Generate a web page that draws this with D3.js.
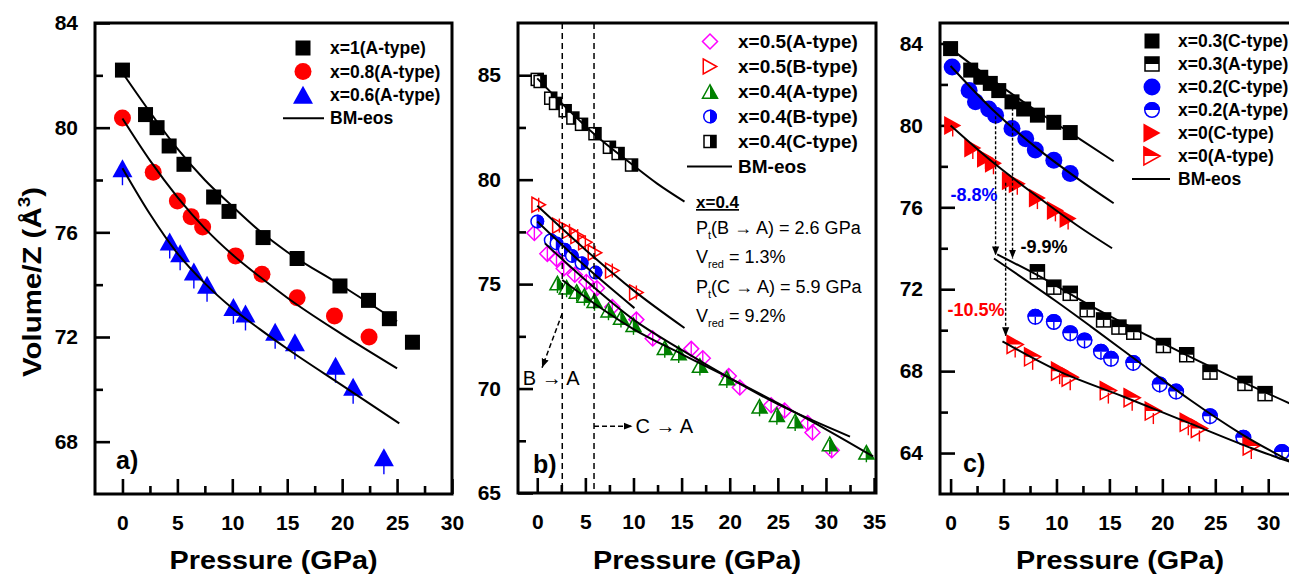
<!DOCTYPE html>
<html>
<head>
<meta charset="utf-8">
<script src="https://cdn.jsdelivr.net/npm/d3@7"></script>
<style>
  body { margin: 0; background: #fff; }
  svg { display: block; font-family: "Liberation Sans", Arial, sans-serif; }
</style>
</head>
<body>
<svg id="fig" width="1289" height="575"></svg>
<script>
// ---------- Panel a: A-type samples, x = 1, 0.8, 0.6 ----------
const aX1  = [[0,82.2],[2.1,80.5],[3.15,80.0],[4.25,79.3],[5.6,78.6],[8.3,77.35],[9.7,76.8],[12.8,75.8],[15.9,75.0],[19.8,73.95],[22.4,73.4],[24.3,72.7],[26.4,71.8]];
const aX08 = [[0,80.37],[2.8,78.3],[5.0,77.2],[6.25,76.6],[7.3,76.2],[10.3,75.1],[12.7,74.4],[15.9,73.5],[19.3,72.8],[22.45,72.0]];
const aX06 = [[0,78.45],[4.3,75.65],[5.25,75.2],[6.5,74.5],[7.7,74.0],[10.1,73.15],[11.2,72.9],[13.9,72.2],[15.7,71.8],[19.4,70.9],[21.0,70.1],[23.8,67.4]];
const aFit1  = [[0,82.1],[2.5,80.6],[5,79.2],[7.5,78.0],[10,77.0],[12.5,76.05],[15,75.25],[20,73.95],[25,72.6]];
const aFit08 = [[0,80.35],[2.5,78.75],[5,77.35],[7.5,76.15],[10,75.15],[12.5,74.3],[15,73.5],[20,72.1],[25,70.8]];
const aFit06 = [[0,78.45],[2.5,76.7],[5,75.2],[7.5,74.05],[10,73.1],[12.5,72.3],[15,71.55],[20,70.15],[25.2,68.7]];

// ---------- Panel b: x = 0.5 and x = 0.4 ----------
const bA05 = [[-0.3,77.45],[1.05,76.45],[2.0,76.2],[2.75,75.75],[3.9,75.45],[5.1,75.1],[6.2,74.8],[7.8,73.9],[10.3,73.3],[12.0,72.4],[16.0,71.9],[17.2,71.45],[19.9,70.6],[21.05,70.05],[24.3,69.2],[25.7,68.95],[28.1,68.35],[28.6,67.9],[30.6,67.05]];
const bB05 = [[0.15,78.8],[2.3,77.8],[3.35,77.55],[4.2,77.3],[5.0,77.0],[6.0,76.5],[7.8,75.65],[10.3,74.6]];
const bA04 = [[2.1,75.05],[3.05,74.85],[4.1,74.65],[4.9,74.45],[5.95,74.2],[7.4,73.75],[8.7,73.4],[10.0,73.05],[13.25,71.95],[14.7,71.7],[16.9,71.1],[19.7,70.5],[23.1,69.15],[24.9,68.75],[26.8,68.45],[30.4,67.35],[34.2,66.95]];
const bB04 = [[0,78.0],[1.4,77.1],[2.0,76.95],[2.85,76.65],[3.6,76.35],[4.6,76.0],[6.05,75.55]];
const bC04 = [[0,84.8],[0.3,84.7],[1.4,83.9],[1.9,83.65],[2.9,83.3],[3.7,82.95],[4.6,82.65],[6.0,82.2],[7.5,81.55],[8.4,81.25],[9.8,80.7]];
const bFitC04 = [[0,84.85],[3,83.45],[6,82.15],[9.8,80.75],[12.5,79.8],[15.3,78.95]];
const bFitB05 = [[0,78.75],[5,76.65],[10,74.7],[15.3,72.9]];
const bFitB04 = [[0,78.0],[5,75.85],[10.1,73.85]];
const bFitA05 = [[0.8,76.95],[5,75.2],[10,73.3],[15,71.85],[20,70.5],[25,69.25],[32.5,67.7]];
const bFitA04 = [[2.6,75.2],[6,74.05],[10,72.85],[15,71.65],[20,70.5],[25,69.3],[30,68.05],[34.9,66.75]];
const bTransitions = [2.6, 5.9];          // P_t(B->A), P_t(C->A) in GPa

// ---------- Panel c: x = 0.3, 0.2, 0 ----------
const cC03 = [[0,83.75],[1.9,82.7],[2.85,82.35],[3.75,82.05],[4.55,81.7],[5.8,81.15],[6.9,80.8],[8.2,80.5],[9.75,80.15],[11.3,79.65]];
const cA03 = [[8.2,72.85],[9.75,72.1],[11.3,71.8],[12.9,71.0],[14.45,70.5],[15.9,70.15],[17.3,69.9],[20.1,69.25],[22.3,68.8],[24.5,67.95],[27.8,67.4],[29.7,66.9]];
const cC02 = [[0.15,82.85],[1.75,81.7],[2.35,81.15],[3.6,80.8],[4.25,80.5],[5.8,79.85],[7.1,79.35],[8.0,78.8],[9.75,78.3],[11.3,77.65]];
const cA02 = [[8.0,70.65],[9.75,70.4],[11.3,69.85],[12.65,69.5],[14.2,68.95],[15.15,68.6],[17.25,68.4],[19.75,67.35],[21.3,67.0],[24.5,65.8],[27.65,64.75],[31.3,64.05]];
const cC0  = [[0.2,80.0],[2.1,78.9],[3.3,78.4],[4.05,78.15],[5.65,77.3],[6.3,77.15],[8.2,76.45],[9.9,75.85],[11.1,75.45]];
const cA0  = [[6.1,69.3],[7.75,68.7],[10.3,68.0],[11.3,67.7],[14.9,67.05],[17.15,66.7],[19.15,66.05],[22.45,65.5],[23.5,65.2],[28.4,64.35]];
const cFitC03 = [[0,83.75],[4,82.2],[8,80.75],[12,79.4],[15.4,78.25]];
const cFitC02 = [[0,82.9],[4,80.75],[8,78.95],[12,77.4],[15.4,76.2]];
const cFitC0  = [[0,80.0],[4,78.2],[8,76.6],[12,75.1],[15.25,74.0]];
const cFitA03 = [[4.4,73.7],[8.5,72.6],[13.2,71.2],[19.5,69.5],[25.8,67.9],[33,66.2]];
const cFitA02 = [[4.1,73.5],[10,71.4],[13.2,70.2],[17.9,68.4],[22.6,66.6],[27.4,64.95],[33,63.35]];
const cFitA0  = [[4.9,69.45],[10,68.05],[16.35,66.75],[22.6,65.45],[28.9,64.15],[33,63.4]];
// volume drops at the C -> A transition: [P, V before, V after]
const cDrops = [[4.25,80.45,73.65],[5.85,81.1,73.5],[5.2,77.2,69.7]];

// ---------- axis ticks ----------
const aTicksX = [0,5,10,15,20,25,30];
const aTicksY = [68,72,76,80,84];
const bTicksX = [0,5,10,15,20,25,30,35];
const bTicksY = [65,70,75,80,85];
const cTicksX = [0,5,10,15,20,25,30];
const cTicksY = [64,68,72,76,80,84];

const RED = "#ff0000", BLUE = "#0000ff", GREEN = "#008000", MAG = "#ff00ff", BLK = "#000000";

const svg = d3.select("#fig");
const defs = svg.append("defs");
defs.append("marker").attr("id", "arrowHead")
  .attr("viewBox", "0 0 10 10").attr("refX", 10).attr("refY", 5)
  .attr("markerWidth", 9).attr("markerHeight", 9).attr("markerUnits", "userSpaceOnUse")
  .attr("orient", "auto")
  .append("path").attr("d", "M0,1L10,5L0,9Z").attr("fill", BLK);

// ---------- symbol painter ----------
function symbol(g, kind, x, y, s, c) {
  const h = s / 2, t = s * 0.45;
  const sw = 1.5;
  switch (kind) {
    case "square":
      g.append("rect").attr("x", x - h).attr("y", y - h).attr("width", s).attr("height", s).attr("fill", c);
      break;
    case "circle":
      g.append("circle").attr("cx", x).attr("cy", y).attr("r", h).attr("fill", c);
      break;
    case "triUp":
      g.append("path").attr("d", `M${x - h},${y + t}L${x + h},${y + t}L${x},${y - t}Z`).attr("fill", c);
      break;
    case "diamond":
      g.append("path").attr("d", `M${x},${y - h}L${x + h},${y}L${x},${y + h}L${x - h},${y}Z`)
        .attr("fill", "none").attr("stroke", c).attr("stroke-width", sw);
      break;
    case "triRightOpen":
      g.append("path").attr("d", `M${x - t},${y - h}L${x + t},${y}L${x - t},${y + h}Z`)
        .attr("fill", "none").attr("stroke", c).attr("stroke-width", sw);
      break;
    case "triRight":
      g.append("path").attr("d", `M${x - t},${y - h}L${x + t},${y}L${x - t},${y + h}Z`).attr("fill", c);
      break;
    case "triHalfLR":
      g.append("path").attr("d", `M${x - h},${y + t}L${x + h},${y + t}L${x},${y - t}Z`)
        .attr("fill", "#fff").attr("stroke", c).attr("stroke-width", sw);
      g.append("path").attr("d", `M${x},${y - t}L${x + h},${y + t}L${x},${y + t}Z`).attr("fill", c);
      break;
    case "circleHalfLR":
      g.append("circle").attr("cx", x).attr("cy", y).attr("r", h - 0.75)
        .attr("fill", "#fff").attr("stroke", c).attr("stroke-width", sw);
      g.append("path").attr("d", `M${x},${y - h}A${h},${h} 0 0 1 ${x},${y + h}Z`).attr("fill", c);
      break;
    case "squareHalfLR":
      g.append("rect").attr("x", x - h).attr("y", y - h).attr("width", s).attr("height", s)
        .attr("fill", "#fff").attr("stroke", c).attr("stroke-width", sw);
      g.append("rect").attr("x", x).attr("y", y - h).attr("width", h).attr("height", s).attr("fill", c);
      break;
    case "squareHalfTB":
      g.append("rect").attr("x", x - h).attr("y", y - h).attr("width", s).attr("height", s)
        .attr("fill", "#fff").attr("stroke", c).attr("stroke-width", sw);
      g.append("rect").attr("x", x - h).attr("y", y - h).attr("width", s).attr("height", h).attr("fill", c);
      break;
    case "circleHalfTB":
      g.append("circle").attr("cx", x).attr("cy", y).attr("r", h - 0.75)
        .attr("fill", "#fff").attr("stroke", c).attr("stroke-width", sw);
      g.append("path").attr("d", `M${x - h},${y}A${h},${h} 0 0 1 ${x + h},${y}Z`).attr("fill", c);
      break;
    case "triRightHalfTB":
      g.append("path").attr("d", `M${x - t},${y - h}L${x + t},${y}L${x - t},${y + h}Z`)
        .attr("fill", "#fff").attr("stroke", c).attr("stroke-width", sw);
      g.append("path").attr("d", `M${x - t},${y - h}L${x + t},${y}L${x - t},${y}Z`).attr("fill", c);
      break;
  }
}

// ---------- generic panel ----------
function panel(cfg) {
  const g = svg.append("g");
  const x = d3.scaleLinear().domain(cfg.xDomain).range([cfg.left, cfg.right]);
  const y = d3.scaleLinear().domain(cfg.yDomain).range([cfg.bottom, cfg.top]);

  // frame
  g.append("path")
    .attr("d", `M${cfg.left},${cfg.top}H${cfg.right}V${cfg.bottom}H${cfg.left}Z`)
    .attr("fill", "none").attr("stroke", BLK).attr("stroke-width", 3);

  // inward ticks: major with labels, minor halfway
  const xMinor = cfg.xTicks.slice(0, -1).map((v, i) => (v + cfg.xTicks[i + 1]) / 2)
    .concat([cfg.xTicks[cfg.xTicks.length - 1] + (cfg.xTicks[1] - cfg.xTicks[0]) / 2])
    .filter(v => v > cfg.xDomain[0] && v < cfg.xDomain[1]);
  const yMinor = cfg.yTicks.slice(0, -1).map((v, i) => (v + cfg.yTicks[i + 1]) / 2)
    .filter(v => v > cfg.yDomain[0] && v < cfg.yDomain[1]);

  const xAxis = d3.axisBottom(x).tickValues(cfg.xTicks).tickSizeInner(-15).tickSizeOuter(0).tickPadding(21);
  const xa = g.append("g").attr("transform", `translate(0,${cfg.bottom})`).call(xAxis);
  xa.select(".domain").remove();
  xa.selectAll(".tick line").attr("stroke-width", 2.6);
  xa.selectAll(".tick text").attr("font-size", 21).attr("font-weight", "bold")
    .attr("font-family", "Liberation Sans, Arial, sans-serif").attr("fill", BLK);
  const xm = d3.axisBottom(x).tickValues(xMinor).tickSizeInner(-8).tickSizeOuter(0).tickFormat("");
  const xma = g.append("g").attr("transform", `translate(0,${cfg.bottom})`).call(xm);
  xma.select(".domain").remove();
  xma.selectAll(".tick line").attr("stroke-width", 2.6);

  const yAxis = d3.axisLeft(y).tickValues(cfg.yTicks).tickSizeInner(-15).tickSizeOuter(0).tickPadding(17);
  const ya = g.append("g").attr("transform", `translate(${cfg.left},0)`).call(yAxis);
  ya.select(".domain").remove();
  ya.selectAll(".tick line").attr("stroke-width", 2.6);
  ya.selectAll(".tick text").attr("font-size", 21).attr("font-weight", "bold")
    .attr("font-family", "Liberation Sans, Arial, sans-serif").attr("fill", BLK);
  const ym = d3.axisLeft(y).tickValues(yMinor).tickSizeInner(-8).tickSizeOuter(0).tickFormat("");
  const yma = g.append("g").attr("transform", `translate(${cfg.left},0)`).call(ym);
  yma.select(".domain").remove();
  yma.selectAll(".tick line").attr("stroke-width", 2.6);

  // axis title
  g.append("text").attr("x", (cfg.left + cfg.right) / 2).attr("y", 569)
    .attr("text-anchor", "middle").attr("font-size", 25).attr("font-weight", "bold")
    .attr("textLength", 208).attr("lengthAdjust", "spacingAndGlyphs")
    .text("Pressure (GPa)");

  // panel letter
  g.append("text").attr("x", cfg.letterX).attr("y", cfg.letterY)
    .attr("font-size", 25).attr("font-weight", "bold").text(cfg.letter);

  // data symbols
  cfg.series.forEach(s => {
    const sg = g.append("g");
    s.data.forEach(d => {
      const px = x(d[0]), py = y(d[1]);
      symbol(sg, s.kind, px, py, s.size, s.color);
      if (s.err) {
        sg.append("line").attr("x1", px).attr("x2", px)
          .attr("y1", py - s.err[0]).attr("y2", py + s.err[1])
          .attr("stroke", s.color).attr("stroke-width", 1.4);
      }
    });
  });

  // BM-eos fits
  const line = d3.line().x(d => x(d[0])).y(d => y(d[1])).curve(d3.curveMonotoneX);
  cfg.fits.forEach(f => {
    g.append("path").attr("d", line(f)).attr("fill", "none")
      .attr("stroke", BLK).attr("stroke-width", 2);
  });

  // legend
  const L = cfg.legend;
  cfg.series.filter(s => s.label).forEach((s, i) => {
    const ly = L.y0 + i * L.dy;
    symbol(g, s.kind, L.mx, ly, s.size, s.color);
    g.append("text").attr("x", L.tx).attr("y", ly).attr("dy", "0.35em")
      .attr("font-size", L.fs).attr("font-weight", "bold").text(s.label);
  });
  const ny = L.y0 + cfg.series.filter(s => s.label).length * L.dy;
  g.append("line").attr("x1", L.lx0).attr("x2", L.lx1).attr("y1", ny).attr("y2", ny)
    .attr("stroke", BLK).attr("stroke-width", 2);
  g.append("text").attr("x", L.tx).attr("y", ny).attr("dy", "0.35em")
    .attr("font-size", L.fs).attr("font-weight", "bold").text("BM-eos");

  return { g, x, y };
}

// ---------- panel a ----------
const pa = panel({
  left: 95, right: 452, top: 23, bottom: 494,
  xDomain: [-2.5, 30], yDomain: [66, 84],
  xTicks: aTicksX, yTicks: aTicksY,
  letter: "a)", letterX: 116, letterY: 469,
  series: [
    { data: aX1, kind: "square", size: 15, color: BLK, label: "x=1(A-type)" },
    { data: aX08, kind: "circle", size: 17, color: RED, label: "x=0.8(A-type)" },
    { data: aX06, kind: "triUp", size: 20, color: BLUE, label: "x=0.6(A-type)", err: [0, 17] }
  ],
  fits: [aFit1, aFit08, aFit06],
  legend: { mx: 303, tx: 330, y0: 48, dy: 23.4, fs: 17.5, lx0: 283, lx1: 324 }
});

// y-axis title (shared)
const yt = svg.append("text").attr("transform", "translate(41,282) rotate(-90)")
  .attr("text-anchor", "middle").attr("font-size", 25).attr("font-weight", "bold")
  .attr("textLength", 190).attr("lengthAdjust", "spacingAndGlyphs");
yt.append("tspan").text("Volume/Z (Å");
yt.append("tspan").attr("font-size", 16).attr("dy", -11).text("3");
yt.append("tspan").attr("dy", 11).text(")");

// ---------- panel b ----------
const pb = panel({
  left: 518, right: 876, top: 23, bottom: 493,
  xDomain: [-2, 35.2], yDomain: [65, 87.5],
  xTicks: bTicksX, yTicks: bTicksY,
  letter: "b)", letterX: 533, letterY: 473,
  series: [
    { data: bA05, kind: "diamond", size: 15, color: MAG, label: "x=0.5(A-type)", err: [7, 7] },
    { data: bB05, kind: "triRightOpen", size: 15, color: RED, label: "x=0.5(B-type)", err: [7, 7] },
    { data: bA04, kind: "triHalfLR", size: 15, color: GREEN, label: "x=0.4(A-type)", err: [4, 10] },
    { data: bB04, kind: "circleHalfLR", size: 14, color: BLUE, label: "x=0.4(B-type)", err: [6, 6] },
    { data: bC04, kind: "squareHalfLR", size: 12, color: BLK, label: "x=0.4(C-type)" }
  ],
  fits: [bFitC04, bFitB05, bFitB04, bFitA05, bFitA04],
  legend: { mx: 710, tx: 738, y0: 41.5, dy: 25, fs: 19, lx0: 687, lx1: 732 }
});

// transition pressures, arrows and notes in panel b
{
  const { g, x, y } = pb;
  bTransitions.forEach(p => {
    g.append("line").attr("x1", x(p)).attr("x2", x(p)).attr("y1", 23).attr("y2", 493)
      .attr("stroke", BLK).attr("stroke-width", 1.5).attr("stroke-dasharray", "6,4");
  });
  g.append("line").attr("x1", x(bTransitions[0])).attr("y1", y(73.6))
    .attr("x2", x(0.5)).attr("y2", y(71.0))
    .attr("stroke", BLK).attr("stroke-width", 1.5).attr("stroke-dasharray", "5,3")
    .attr("marker-end", "url(#arrowHead)");
  g.append("line").attr("x1", x(bTransitions[1])).attr("y1", y(68.2))
    .attr("x2", x(9.9)).attr("y2", y(68.2))
    .attr("stroke", BLK).attr("stroke-width", 1.5).attr("stroke-dasharray", "5,3")
    .attr("marker-end", "url(#arrowHead)");
  g.append("text").attr("x", x(-1.5)).attr("y", y(70.15)).attr("font-size", 20).text("B \u2192 A");
  g.append("text").attr("x", x(10.2)).attr("y", y(67.85)).attr("font-size", 20).text("C \u2192 A");

  const nx = 696;
  g.append("text").attr("x", nx).attr("y", 208).attr("font-size", 17).attr("font-weight", "bold")
    .attr("text-decoration", "underline").text("x=0.4");
  const note = (yy, main, sub, rest) => {
    const t = g.append("text").attr("x", nx).attr("y", yy).attr("font-size", 18);
    t.append("tspan").text(main);
    t.append("tspan").attr("font-size", 11).attr("dy", 5).text(sub);
    t.append("tspan").attr("dy", -5).text(rest);
  };
  note(234, "P", "t", `(B \u2192 A) = ${bTransitions[0]} GPa`);
  note(263, "V", "red", " = 1.3%");
  note(293, "P", "t", `(C \u2192 A) = ${bTransitions[1]} GPa`);
  note(322, "V", "red", " = 9.2%");
}

// ---------- panel c ----------
const pc = panel({
  left: 940, right: 1300, top: 23, bottom: 494,
  xDomain: [-1, 33], yDomain: [62, 85],
  xTicks: cTicksX, yTicks: cTicksY,
  letter: "c)", letterX: 963, letterY: 472,
  series: [
    { data: cC03, kind: "square", size: 15, color: BLK, label: "x=0.3(C-type)" },
    { data: cA03, kind: "squareHalfTB", size: 14, color: BLK, label: "x=0.3(A-type)", err: [0, 7] },
    { data: cC02, kind: "circle", size: 17, color: BLUE, label: "x=0.2(C-type)" },
    { data: cA02, kind: "circleHalfTB", size: 16, color: BLUE, label: "x=0.2(A-type)", err: [0, 8] },
    { data: cC0, kind: "triRight", size: 19, color: RED, label: "x=0(C-type)", err: [0, 11] },
    { data: cA0, kind: "triRightHalfTB", size: 18, color: RED, label: "x=0(A-type)", err: [-2, 13] }
  ],
  fits: [cFitC03, cFitC02, cFitC0, cFitA03, cFitA02, cFitA0],
  legend: { mx: 1152, tx: 1178, y0: 41, dy: 23, fs: 17.5, lx0: 1132, lx1: 1170 }
});

{
  const { g, x, y } = pc;
  cDrops.forEach(d => {
    g.append("line").attr("x1", x(d[0])).attr("x2", x(d[0]))
      .attr("y1", y(d[1])).attr("y2", y(d[2]))
      .attr("stroke", BLK).attr("stroke-width", 1.4).attr("stroke-dasharray", "3,2")
      .attr("marker-end", "url(#arrowHead)");
  });
  g.append("text").attr("x", x(0)).attr("y", y(76.3)).attr("font-size", 18)
    .attr("font-weight", "bold").attr("fill", BLUE).text("-8.8%");
  g.append("text").attr("x", x(6.6)).attr("y", y(73.75)).attr("font-size", 18)
    .attr("font-weight", "bold").attr("fill", BLK).text("-9.9%");
  g.append("text").attr("x", x(-0.3)).attr("y", y(70.7)).attr("font-size", 18)
    .attr("font-weight", "bold").attr("fill", RED).text("-10.5%");
}
</script>
</body>
</html>
